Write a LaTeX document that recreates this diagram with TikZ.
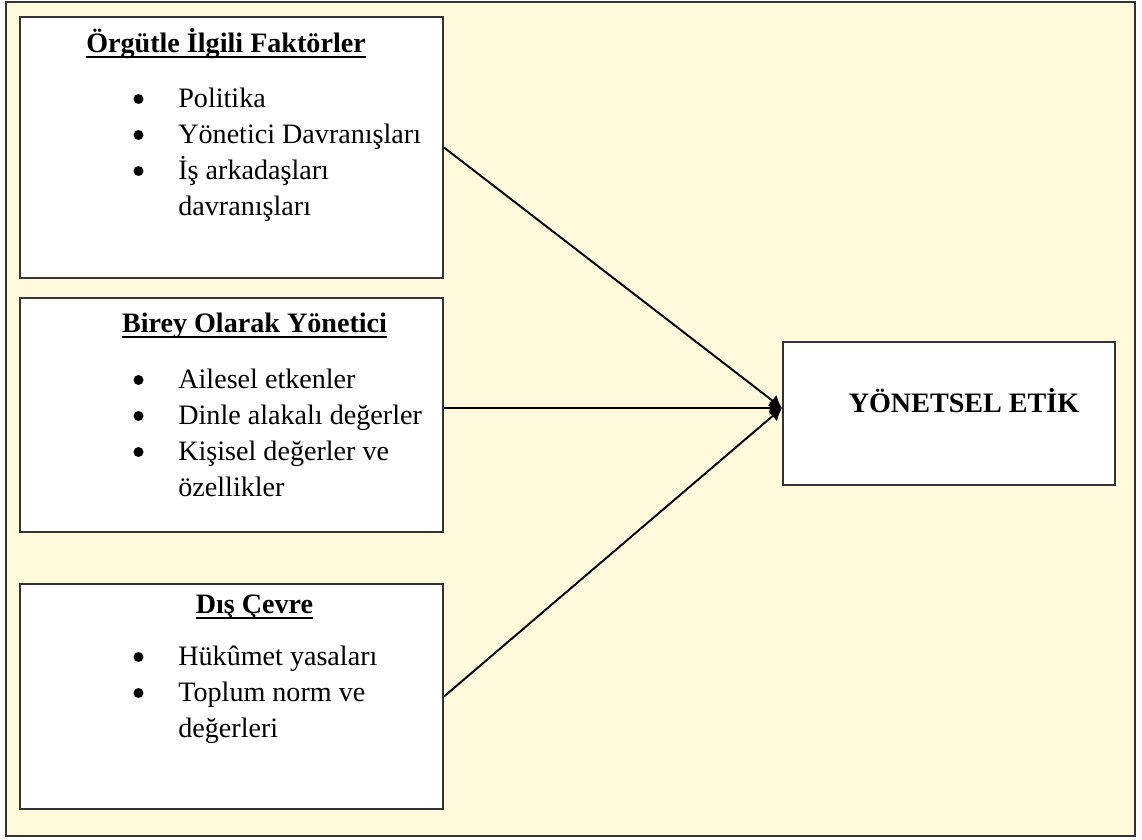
\documentclass[tikz,border=0pt]{standalone}
\usepackage{fontspec}
\setmainfont{Liberation Serif}
\usepackage{tikz}
\usetikzlibrary{arrows.meta}
\usetikzlibrary{positioning}
\usetikzlibrary{math}
\definecolor{cream}{RGB}{255,250,220}
\definecolor{edge}{RGB}{51,51,51}
\newcommand{\undl}[1]{\setbox0\hbox{#1}\rlap{\rule[-3.2pt]{\wd0}{1pt}}\box0}
\tikzstyle{factor} = [rectangle, draw=edge, line width=1.2pt, fill=white, minimum width=8.46cm, inner sep=0pt]
\tikzstyle{title} = [font=\fontsize{16}{20.5}\selectfont\bfseries, anchor=base, inner sep=0pt]
\tikzstyle{items} = [font=\fontsize{16}{20.5}\selectfont, anchor=base west, inner sep=0pt]
\tikzstyle{dot} = [circle, fill=black, minimum size=0.2cm, inner sep=0pt]
\tikzstyle{arrow} = [-{Latex[length=7pt,width=8pt]}, line width=1.1pt]

\begin{document}
\begin{tikzpicture}[x=0.02cm, y=-0.02cm]

  \tikzmath{\bx = 231.5; \lx = 178; \dx = 138.5; \ls = 36;}

  \useasboundingbox (0,0) rectangle (1142,839);
  \draw[fill=cream, draw=edge, line width=1.2pt] (6,2) rectangle (1135,836);

  % Fig 1
  \node[factor, minimum height=5.22cm] (orgut) at (\bx,147.5) {};
  \node[title] (orgutT) at (226,52) {\undl{Örgütle İlgili Faktörler}};
  \node[items] (orgutL) at (\lx,107) {\begin{tabular}[t]{@{}l@{}}
    Politika\\
    Yönetici Davranışları\\
    İş arkadaşları\\
    davranışları
  \end{tabular}};
  \foreach \i in {0,1,2}
    \node[dot] (orgutB\i) at (\dx,99+\ls*\i) {};

  % Fig 2
  \node[factor, minimum height=4.68cm] (birey) at (\bx,415) {};
  \node[title] (bireyT) at (254.5,332) {\undl{Birey Olarak Yönetici}};
  \node[items] (bireyL) at (\lx,388) {\begin{tabular}[t]{@{}l@{}}
    Ailesel etkenler\\
    Dinle alakalı değerler\\
    Kişisel değerler ve\\
    özellikler
  \end{tabular}};
  \foreach \i in {0,1,2}
    \node[dot] (bireyB\i) at (\dx,380+\ls*\i) {};

  % Fig 3
  \node[factor, minimum height=4.5cm] (cevre) at (\bx,696.5) {};
  \node[title] (cevreT) at (254.5,613) {\undl{Dış Çevre}};
  \node[items] (cevreL) at (\lx,665) {\begin{tabular}[t]{@{}l@{}}
    Hükûmet yasaları\\
    Toplum norm ve\\
    değerleri
  \end{tabular}};
  \foreach \i in {0,1}
    \node[dot] (cevreB\i) at (\dx,657+\ls*\i) {};

  % result
  \node[factor, minimum width=6.64cm, minimum height=2.86cm] (etik) at (949,413.5) {};
  \node[title] (etikT) at (964,412) {YÖNETSEL ETİK};

  \coordinate (tip) at ([yshift=0.11cm]etik.west);
  \draw[arrow] (orgut.east) -- (tip);
  \draw[arrow] (birey.east |- tip) -- (tip);
  \draw[arrow] (cevre.east) -- (tip);

\end{tikzpicture}
\end{document}
